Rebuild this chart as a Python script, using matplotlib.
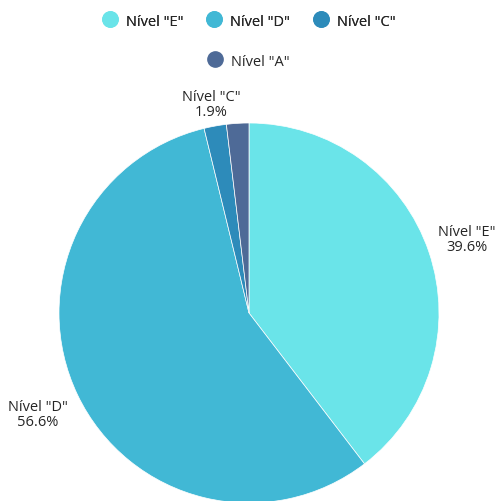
import matplotlib.pyplot as plt
from matplotlib.lines import Line2D
import numpy as np

plt.rcParams['font.family'] = ['Open Sans', 'DejaVu Sans']

# data
labels = ['Nível "E"', 'Nível "D"', 'Nível "C"', 'Nível "A"']
values = [39.6, 56.6, 1.9, 1.9]
colors = ['#6ae4e9', '#41b8d5', '#2d8bba', '#4e6a97']
show_label = [True, True, True, False]
label_dist = [1.21, 1.23, 1.12, 1.12]

W, H = 498, 502
fig = plt.figure(figsize=(W / 100, H / 100), dpi=100)
ax = fig.add_axes([0, 0, 1, 1])

cx, cy, r = 249, H - 314, 190
wedges, _ = ax.pie(values, colors=colors, startangle=90, counterclock=False,
                   center=(cx, cy), radius=r, frame=True,
                   wedgeprops=dict(edgecolor='white', linewidth=0.5))
ax.set_xlim(0, W)
ax.set_ylim(0, H)
ax.set_aspect('equal')
ax.axis('off')

txt = '#262626'
for w, lab, v, show, d in zip(wedges, labels, values, show_label, label_dist):
    if not show:
        continue
    ang = np.deg2rad((w.theta1 + w.theta2) / 2)
    x = cx + d * r * np.cos(ang)
    y = cy + d * r * np.sin(ang)
    ax.text(x, y, f'{lab}\n{v}%', ha='center', va='center', fontsize=10.5,
            color=txt, linespacing=1.0)

handles = [Line2D([], [], marker='o', linestyle='', markersize=11,
                  markerfacecolor=c, markeredgecolor=c) for c in colors]
leg1 = fig.legend(handles[:3], labels[:3], loc='center', bbox_to_anchor=(0.5, 1 - 22 / H),
                  ncol=3, frameon=False, fontsize=10.5, handletextpad=0.6,
                  columnspacing=1.6, handlelength=1.0, labelcolor=txt)
fig.add_artist(leg1)
fig.legend(handles[3:], labels[3:], loc='center', bbox_to_anchor=(0.5, 1 - 62 / H),
           ncol=1, frameon=False, fontsize=10.5, handletextpad=0.6, handlelength=1.0,
           labelcolor=txt)

fig.savefig('out.png', dpi=100)
